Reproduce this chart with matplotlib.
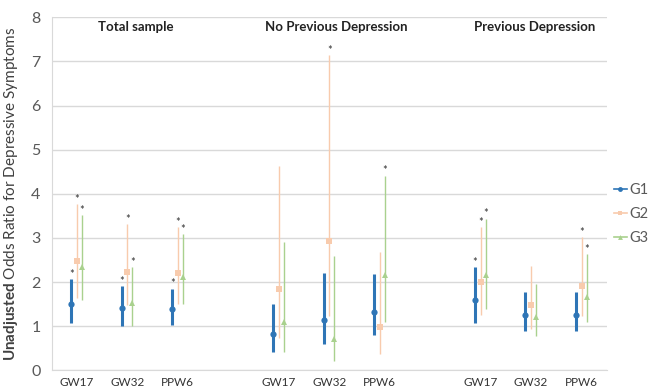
import matplotlib
matplotlib.use("Agg")
import matplotlib.pyplot as plt
import numpy as np

plt.rcParams['font.family'] = ['Lato', 'DejaVu Sans']
plt.rcParams['mathtext.fontset'] = 'custom'
plt.rcParams['mathtext.rm'] = 'Lato'
plt.rcParams['mathtext.bf'] = 'Lato:bold'

categories = ["GW17", "GW32", "PPW6", "", "GW17", "GW32", "PPW6", "", "GW17", "GW32", "PPW6"]
groups = ["Total sample", "No Previous Depression", "Previous Depression"]
series = ["G1", "G2", "G3"]

# values per series for slots (None for blank slots)
g1_or = [1.50, 1.41, 1.39, None, 0.82, 1.14, 1.32, None, 1.60, 1.25, 1.25]
g1_lo = [1.08, 1.01, 1.03, None, 0.42, 0.59, 0.79, None, 1.07, 0.88, 0.88]
g1_hi = [2.06, 1.90, 1.85, None, 1.50, 2.20, 2.18, None, 2.34, 1.78, 1.78]
g1_sig = [1, 1, 1, 0, 0, 0, 0, 0, 1, 0, 0]

g2_or = [2.48, 2.22, 2.20, None, 1.85, 2.93, 0.98, None, 2.01, 1.49, 1.92]
g2_lo = [1.65, 1.47, 1.50, None, 0.73, 1.22, 0.37, None, 1.26, 0.94, 1.24]
g2_hi = [3.77, 3.32, 3.24, None, 4.62, 7.15, 2.69, None, 3.25, 2.37, 3.02]
g2_sig = [1, 1, 1, 0, 0, 1, 0, 0, 1, 0, 1]

g3_or = [2.33, 1.53, 2.11, None, 1.09, 0.70, 2.16, None, 2.16, 1.21, 1.67]
g3_lo = [1.60, 1.01, 1.50, None, 0.42, 0.21, 1.09, None, 1.38, 0.78, 1.10]
g3_hi = [3.52, 2.34, 3.09, None, 2.90, 2.58, 4.41, None, 3.44, 1.95, 2.63]
g3_sig = [1, 1, 1, 0, 0, 0, 1, 0, 1, 0, 1]

fig = plt.figure(figsize=(6.51, 3.90), dpi=100)
ax = fig.add_axes([0.0794, 0.0505, 0.8526, 0.9051])

x_all = np.arange(len(categories))
specs = [
    (g1_or, g1_lo, g1_hi, g1_sig, -0.11, '#2e75b6', '#9dc3e6', 'o', 2.2, 4.5),
    (g2_or, g2_lo, g2_hi, g2_sig, 0.0, '#f8cbad', '#f4b183', 's', 1.0, 4.0),
    (g3_or, g3_lo, g3_hi, g3_sig, 0.10, '#a9d18e', '#a9d18e', '^', 1.0, 4.2),
]
handles = []
for (orv, lo, hi, sig, off, col, capcol, mk, lw, ms), name in zip(specs, series):
    idx = [i for i, v in enumerate(orv) if v is not None]
    xs = x_all[idx] + off
    y = np.array([orv[i] for i in idx])
    l = np.array([lo[i] for i in idx])
    h = np.array([hi[i] for i in idx])
    eb = ax.errorbar(xs, y, yerr=[y - l, h - y], fmt=mk, color=col, ecolor=col,
                     elinewidth=lw, capsize=3, capthick=1.0, markersize=ms,
                     markeredgewidth=0, zorder=3)
    for cap in eb[1]:
        cap.set_color(capcol)
    for xi, hi_v, s in zip(xs, h, [sig[i] for i in idx]):
        if s:
            ax.annotate('*', (xi, hi_v), xytext=(0, -0.5), textcoords='offset points',
                        ha='center', va='bottom', fontsize=8, color='#333333')
    handles.append(ax.plot([], [], color=col, marker=mk, markersize=3.5,
                           linewidth=1.2, markeredgewidth=0)[0])

ax.set_xlim(-0.5, len(categories) - 0.5)
ax.set_ylim(0, 8)
ax.set_yticks(range(0, 9))
ax.set_xticks(x_all)
ax.set_xticklabels(categories, fontsize=8.5, color='#333333')
ax.tick_params(axis='x', length=0, pad=5)
ax.tick_params(axis='y', length=0, pad=8, labelsize=11.5, labelcolor='#595959')
ax.yaxis.grid(True, color='#d9d9d9', linewidth=1.0)
ax.set_axisbelow(True)
for sp in ['top', 'right']:
    ax.spines[sp].set_visible(False)
ax.spines['left'].set_color('#d9d9d9')
ax.spines['bottom'].set_color('#d9d9d9')

ax.set_ylabel(r'$\bf{Unadjusted}$ Odds Ratio for Depressive Symptoms',
              fontsize=11, color='#404040', labelpad=8)

for gx, g in zip([1.17, 5.13, 9.08], groups):
    ax.text(gx, 7.78, g, ha='center', va='center', fontsize=9.5,
            fontweight='bold', color='#222222')

leg = fig.legend(handles, series, loc='center left', bbox_to_anchor=(0.943, 0.451),
                 frameon=False, fontsize=10.5, handlelength=0.9, handletextpad=0.15,
                 labelspacing=0.7, labelcolor='#595959', borderpad=0,
                 borderaxespad=0)

fig.savefig('out.png', dpi=100)
